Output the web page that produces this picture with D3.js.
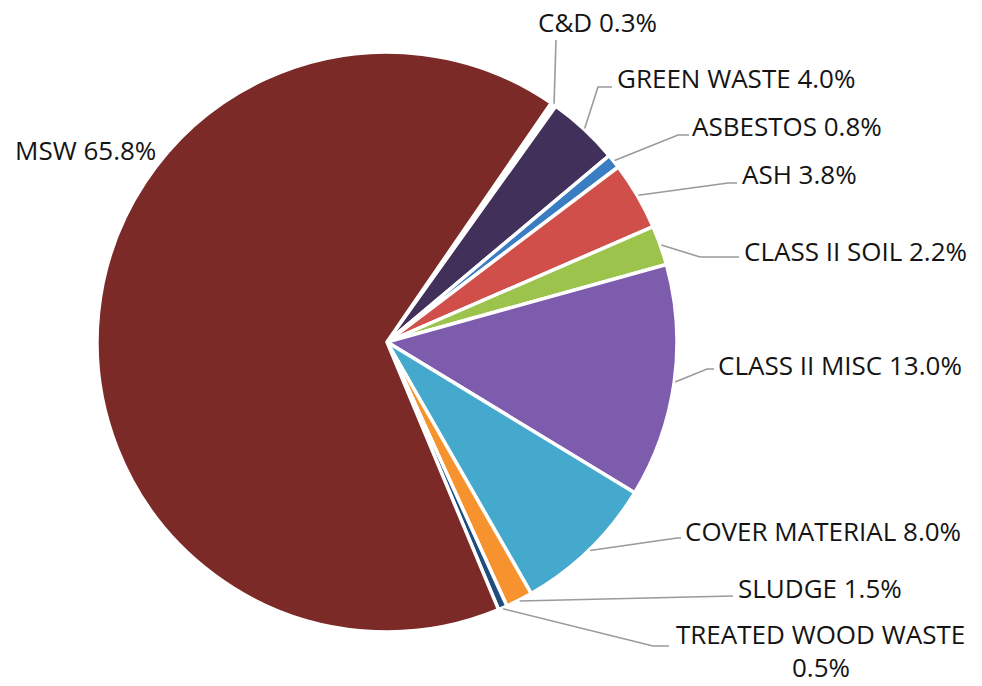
<!DOCTYPE html>
<html>
<head>
<meta charset="utf-8">
<script src="https://cdn.jsdelivr.net/npm/d3@7"></script>
<style>
  html, body { margin: 0; padding: 0; background: #ffffff; }
  svg { display: block; }
  text { font-family: "Open Sans", "Noto Sans", sans-serif; fill: #141414; }
</style>
</head>
<body>
<svg id="chart" width="982" height="686"></svg>
<script>
// ---- data ----
const categories = ["C&D", "GREEN WASTE", "ASBESTOS", "ASH", "CLASS II SOIL",
  "CLASS II MISC", "COVER MATERIAL", "SLUDGE", "TREATED WOOD WASTE", "MSW"];
const values = [0.3, 4.0, 0.8, 3.8, 2.2, 13.0, 8.0, 1.5, 0.5, 65.8];
const colors = ["#ffffff", "#41315a", "#3a7dc2", "#d04f4b", "#9cc34c",
  "#7d5cae", "#44a9cc", "#f7932f", "#1f4e7e", "#7c2a28"];

// label layout: [textX, baselineY, anchor, elbowX, elbowY, endX, endY] (null = no leader)
const labelLayout = [
  [538, 32, "start", 556, 40, 556, 40],
  [617, 88, "start", 598, 87, 612, 87],
  [692, 136, "start", 678, 135, 689, 135],
  [742, 184, "start", 728, 183, 737, 183],
  [744, 261, "start", 700, 257, 739, 257],
  [718, 375, "start", 707, 369, 714, 369],
  [685, 541, "start", 677, 538, 681, 538],
  [738, 598, "start", 733, 596, 733, 596],
  [676, 644, "start", 653, 646, 669, 646],
  [15, 160, "start", null, null, null, null]
];

const W = 982, H = 686;
const cx = 387, cy = 342, R = 290;
const startDeg = 34.5;

const svg = d3.select("#chart");
const data = categories.map((c, i) => ({ name: c, value: values[i], color: colors[i], layout: labelLayout[i] }));

const pie = d3.pie().value(d => d.value).sort(null)
  .startAngle(startDeg * Math.PI / 180)
  .endAngle(startDeg * Math.PI / 180 + 2 * Math.PI);
const arcs = pie(data);
const arc = d3.arc().innerRadius(0).outerRadius(R);

const g = svg.append("g").attr("transform", `translate(${cx},${cy})`);
g.selectAll("path.slice").data(arcs).enter().append("path")
  .attr("class", "slice")
  .attr("d", arc)
  .attr("fill", d => d.data.color)
  .attr("stroke", "#ffffff")
  .attr("stroke-width", 3.5)
  .attr("stroke-linejoin", "round");

// leaders
const leaderG = svg.append("g");
arcs.forEach(a => {
  const L = a.data.layout;
  if (L[3] === null) return;
  const mid = (a.startAngle + a.endAngle) / 2;
  const sx = cx + (R + 1) * Math.sin(mid);
  const sy = cy - (R + 1) * Math.cos(mid);
  leaderG.append("polyline")
    .attr("points", `${sx},${sy} ${L[3]},${L[4]} ${L[5]},${L[6]}`)
    .attr("fill", "none")
    .attr("stroke", "#9a9a9a")
    .attr("stroke-width", 1.6);
});

// labels
const fmt = v => v.toFixed(1) + "%";
const labelG = svg.append("g").attr("font-size", 26);
arcs.forEach(a => {
  const L = a.data.layout;
  if (a.data.name === "TREATED WOOD WASTE") {
    labelG.append("text").attr("x", L[0]).attr("y", L[1]).attr("text-anchor", L[2])
      .text(a.data.name);
    labelG.append("text").attr("x", 821).attr("y", L[1] + 33).attr("text-anchor", "middle")
      .text(fmt(a.data.value));
  } else {
    labelG.append("text").attr("x", L[0]).attr("y", L[1]).attr("text-anchor", L[2])
      .text(a.data.name + " " + fmt(a.data.value));
  }
});
</script>
</body>
</html>
